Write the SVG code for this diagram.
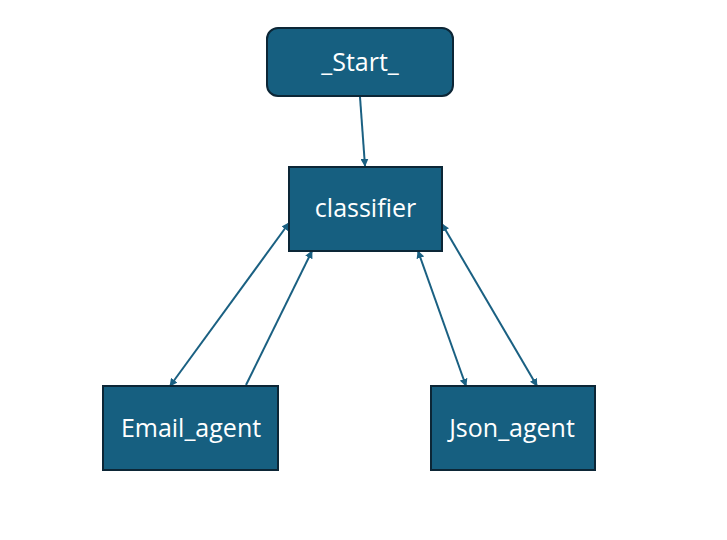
<svg xmlns="http://www.w3.org/2000/svg" width="727" height="540" viewBox="0 0 727 540">
<defs>
<marker id="ah" viewBox="0 0 10 10" refX="9" refY="5" markerWidth="8" markerHeight="8" markerUnits="userSpaceOnUse" orient="auto-start-reverse">
<path d="M0,0 L10,5 L0,10 z" fill="#1A6082"/>
</marker>
<style>
.n{fill:#165F80;stroke:#0C2636;stroke-width:2}
.t{fill:#ffffff;font-family:"Open Sans","Noto Sans",sans-serif;font-size:25px;text-anchor:middle;dominant-baseline:central}
.c{stroke:#1A6082;stroke-width:2;fill:none}
</style>
</defs>
<rect width="727" height="540" fill="#ffffff"/>
<g id="connectors">
<line class="c" x1="360" y1="97" x2="365" y2="166" marker-end="url(#ah)"/>
<line class="c" x1="289" y1="223" x2="170" y2="386" marker-start="url(#ah)" marker-end="url(#ah)"/>
<line class="c" x1="246" y1="385" x2="312" y2="251" marker-end="url(#ah)"/>
<line class="c" x1="418" y1="251" x2="466" y2="386" marker-start="url(#ah)" marker-end="url(#ah)"/>
<line class="c" x1="442" y1="224" x2="537" y2="386" marker-start="url(#ah)" marker-end="url(#ah)"/>
</g>
<g id="start">
<rect class="n" x="267" y="28" width="186" height="68" rx="11"/>
<text class="t" x="360" y="61">_Start_</text>
</g>
<g id="classifier">
<rect class="n" x="289" y="167" width="153" height="84"/>
<text class="t" x="365.5" y="207">classifier</text>
</g>
<g id="email_agent">
<rect class="n" x="103" y="386" width="175" height="84"/>
<text class="t" x="191" y="427">Email_agent</text>
</g>
<g id="json_agent">
<rect class="n" x="431" y="386" width="164" height="84"/>
<text class="t" x="512" y="427">Json_agent</text>
</g>
</svg>
